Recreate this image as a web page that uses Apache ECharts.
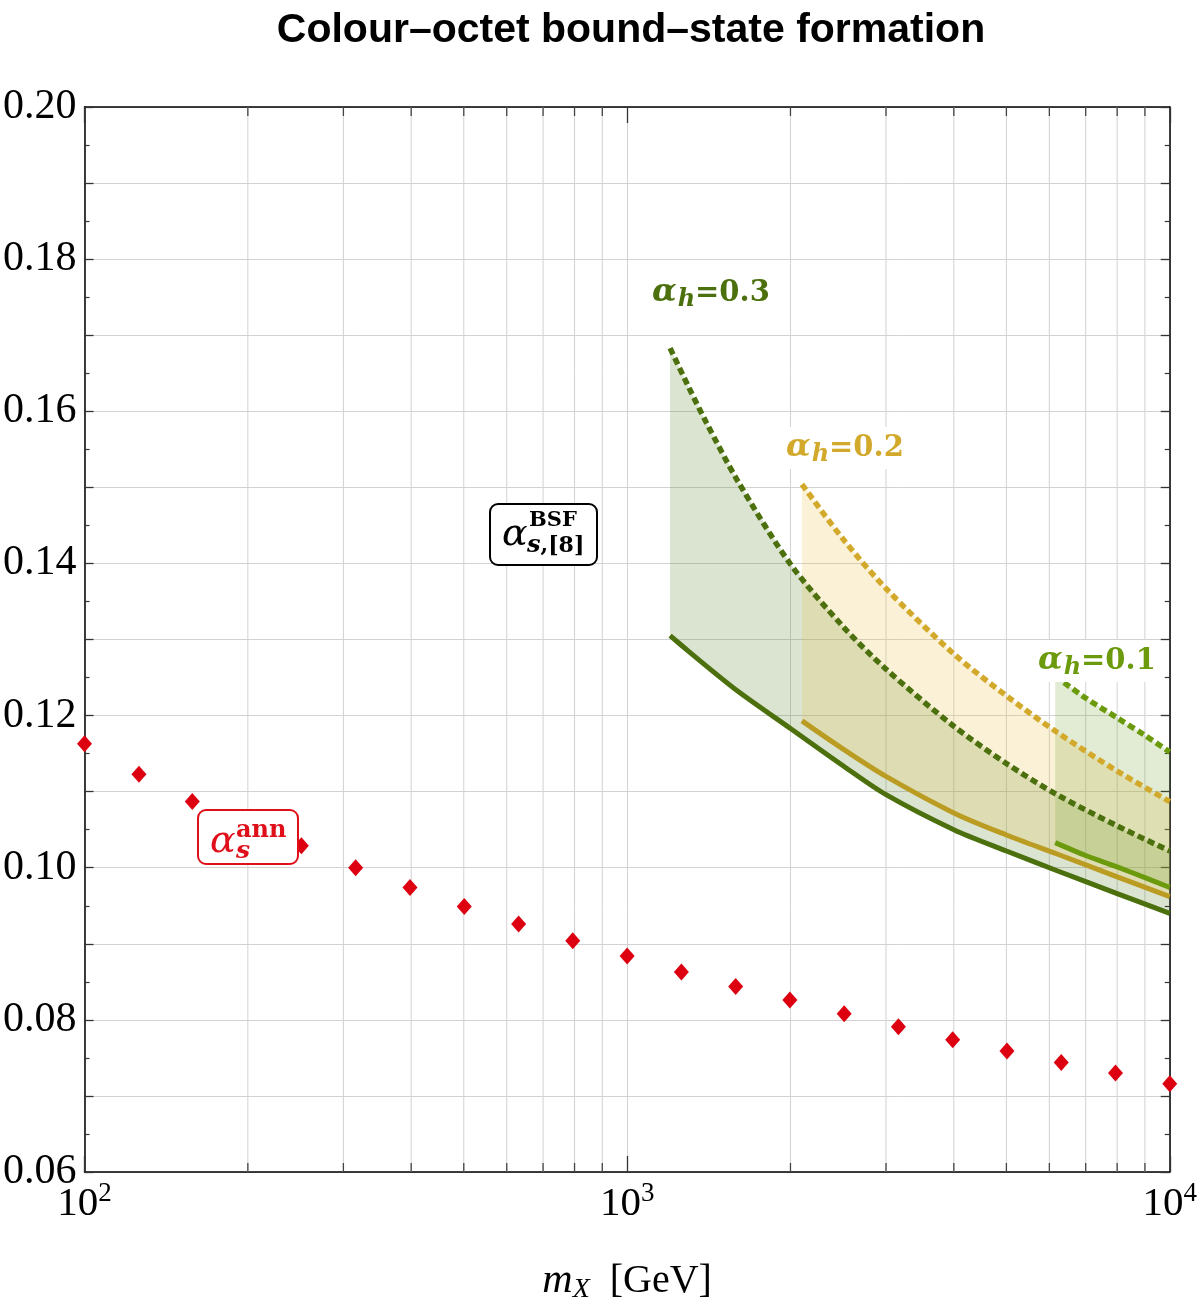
<!DOCTYPE html>
<html>
<head>
<meta charset="utf-8">
<script src="https://cdn.jsdelivr.net/npm/echarts@6.0.0/dist/echarts.min.js"></script>
<style>
  html, body { margin: 0; padding: 0; background: #fff; }
  #chart { width: 1200px; height: 1309px; }
</style>
</head>
<body>
<div id="chart"></div>
<script>
// annihilation coupling (red diamonds)
var annMass = [100, 126, 158, 200, 251, 316, 398, 501, 631, 794, 1000, 1259, 1585, 1995, 2512, 3162, 3981, 5012, 6310, 7943, 10000];
var annAlpha = [0.1163, 0.1123, 0.1087, 0.1056, 0.1029, 0.1000, 0.0974, 0.0949, 0.0926, 0.0904, 0.0884,
  0.0863, 0.0844, 0.0826, 0.0808, 0.0791, 0.0774, 0.0759, 0.0744, 0.0730, 0.0716];

// alpha_h = 0.3 band
var mass03 = [1200, 1300, 1400, 1600, 2000, 2500, 3000, 4000, 5000, 6200, 8000, 10000];
var low03 = [0.1305, 0.1284, 0.1265, 0.1232, 0.1183, 0.1134, 0.1096, 0.1050, 0.1022, 0.0996, 0.0966, 0.0940];
var high03 = [0.1683, 0.1631, 0.1585, 0.1508, 0.1399, 0.1317, 0.1261, 0.1186, 0.1137, 0.1096, 0.1055, 0.1022];

// alpha_h = 0.2 band
var mass02 = [2100, 2500, 3000, 4000, 5000, 6200, 8000, 10000];
var low02 = [0.1193, 0.1156, 0.1120, 0.1072, 0.1043, 0.1018, 0.0988, 0.0962];
var high02 = [0.1504, 0.1432, 0.1367, 0.1281, 0.1226, 0.1178, 0.1127, 0.1087];

// alpha_h = 0.1 band
var mass01 = [6150, 7000, 8000, 9000, 10000];
var low01 = [0.1033, 0.1016, 0.1001, 0.0987, 0.0974];
var high01 = [0.1252, 0.1223, 0.1197, 0.1174, 0.1152];

var xMinorGrid = [200, 300, 400, 500, 600, 700, 800, 900, 2000, 3000, 4000, 5000, 6000, 7000, 8000, 9000];

var Y_MIN = 0.06, Y_MAX = 0.20;
var SERIF = "'Liberation Serif', 'DejaVu Serif', serif";
var MATH = "'DejaVu Serif', serif";
var GRID_COLOR = '#d2d2d2';

var chart = echarts.init(document.getElementById('chart'));

function pairs(xs, ys){
  return xs.map(function(x, i){ return [x, ys[i]]; });
}

// filled region between the two curves of one alpha_h value
function bandFill(xs, lo, hi, fill){
  return {
    type: 'custom', silent: true, z: 2,
    data: [[xs[0], lo[0]]],
    encode: {x: 0, y: 1},
    renderItem: function(params, api){
      var pts = [];
      for (var i = 0; i < xs.length; i++) {
        pts.push(api.coord([xs[i], hi[i]]));
      }
      for (var j = xs.length - 1; j >= 0; j--) {
        pts.push(api.coord([xs[j], lo[j]]));
      }
      return {type: 'polygon', shape: {points: pts}, style: {fill: fill}};
    }
  };
}

function band(xs, lo, hi, lineColor, dotColor, fill){
  return [
    bandFill(xs, lo, hi, fill),
    {
      type: 'line', symbol: 'none', silent: true, z: 2, smooth: 0.3,
      data: pairs(xs, lo),
      lineStyle: {color: lineColor, width: 5}
    },
    {
      type: 'line', symbol: 'none', silent: true, z: 2, smooth: 0.3,
      data: pairs(xs, hi),
      lineStyle: {color: dotColor, width: 5.5, type: [7, 4], cap: 'butt'}
    }
  ];
}

function hLabel(x, y, value, color){
  return {
    type: 'text', left: x, top: y, z: 100,
    style: {
      text: '{a|α}{h|h}{r|=' + value + '}',
      backgroundColor: '#fff',
      padding: [2, 4, 2, 4],
      rich: {
        a: {fontFamily: MATH, fontStyle: 'italic', fontSize: 32, fill: color, fontWeight: 'bold'},
        h: {fontFamily: MATH, fontStyle: 'italic', fontWeight: 'bold', fontSize: 24, fill: color, padding: [14, 0, 0, 1]},
        r: {fontFamily: MATH, fontWeight: 'bold', fontSize: 29, fill: color}
      }
    }
  };
}

var series = [
  {
    type: 'custom', silent: true, z: 1,
    data: xMinorGrid.map(function(v){ return [v, Y_MIN]; }),
    encode: {x: 0, y: 1},
    renderItem: function(params, api){
      var x = api.value(0);
      var b = api.coord([x, Y_MIN]);
      var t = api.coord([x, Y_MAX]);
      return {
        type: 'group',
        children: [
          {type: 'line', shape: {x1: b[0], y1: b[1], x2: t[0], y2: t[1]}, style: {stroke: GRID_COLOR, lineWidth: 1}},
          {type: 'line', shape: {x1: b[0], y1: b[1], x2: b[0], y2: b[1] - 9}, style: {stroke: '#444', lineWidth: 1.3}},
          {type: 'line', shape: {x1: t[0], y1: t[1], x2: t[0], y2: t[1] + 9}, style: {stroke: '#444', lineWidth: 1.3}}
        ]
      };
    }
  }
];
series = series.concat(band(mass03, low03, high03, '#4b700d', '#4b700d', 'rgba(86,128,40,0.21)'));
series = series.concat(band(mass02, low02, high02, '#bb9c22', '#d3a92b', 'rgba(232,192,70,0.22)'));
series = series.concat(band(mass01, low01, high01, '#6b9a0c', '#6b9a0c', 'rgba(110,160,40,0.2)'));
series.push({
  type: 'scatter', symbol: 'diamond', symbolSize: [15, 17], silent: true, z: 3,
  data: pairs(annMass, annAlpha),
  itemStyle: {color: '#dc0010', opacity: 1}
});

var option = {
  animation: false,
  backgroundColor: '#fff',
  title: {
    text: 'Colour–octet bound–state formation',
    left: 626, top: 5, textAlign: 'center',
    textStyle: {fontFamily: "'Liberation Sans', Arial, sans-serif", fontWeight: 'bold', fontSize: 41, color: '#000'}
  },
  grid: {left: 83, right: 30, top: 107, bottom: 116, containLabel: false},
  xAxis: [
    {
      type: 'log', logBase: 10, min: 100, max: 10000,
      name: '{i|m}{s|X}{n|  [GeV]}', nameLocation: 'middle', nameGap: 86,
      nameTextStyle: {
        rich: {
          i: {fontFamily: SERIF, fontStyle: 'italic', fontSize: 42, color: '#000'},
          s: {fontFamily: SERIF, fontStyle: 'italic', fontSize: 28, color: '#000', padding: [18, 0, 0, 0]},
          n: {fontFamily: SERIF, fontSize: 40, color: '#000'}
        }
      },
      axisLine: {lineStyle: {color: '#000', width: 1.5}},
      axisTick: {inside: true, length: 16, lineStyle: {color: '#333', width: 1.3}},
      splitLine: {show: true, lineStyle: {color: GRID_COLOR, width: 1}},
      axisLabel: {
        margin: 8,
        formatter: function(v){
          return '{b|10}{e|' + Math.round(Math.log10(v)) + '}';
        },
        rich: {
          b: {fontFamily: SERIF, fontSize: 41, color: '#000'},
          e: {fontFamily: SERIF, fontSize: 27, color: '#000', padding: [0, 0, 22, 0]}
        }
      }
    },
    {
      type: 'log', logBase: 10, min: 100, max: 10000, position: 'top',
      axisLine: {lineStyle: {color: '#000', width: 1.5}},
      axisTick: {inside: true, length: 16, lineStyle: {color: '#333', width: 1.3}},
      axisLabel: {show: false},
      splitLine: {show: false}
    }
  ],
  yAxis: [
    {
      type: 'value', min: Y_MIN, max: Y_MAX, interval: 0.01,
      axisLine: {show: true, lineStyle: {color: '#000', width: 1.5}},
      axisTick: {inside: true, length: 9, lineStyle: {color: '#333', width: 1.3}},
      minorTick: {show: true, splitNumber: 2, length: 5, lineStyle: {color: '#333', width: 1.2}},
      splitLine: {show: true, lineStyle: {color: GRID_COLOR, width: 1}},
      axisLabel: {
        margin: 8,
        fontFamily: SERIF, fontSize: 42, color: '#000',
        formatter: function(v){
          return Math.round(v * 100) % 2 === 0 ? v.toFixed(2) : '';
        }
      }
    },
    {
      type: 'value', min: Y_MIN, max: Y_MAX, interval: 0.01, position: 'right',
      axisLine: {show: true, lineStyle: {color: '#000', width: 1.5}},
      axisTick: {inside: true, length: 9, lineStyle: {color: '#333', width: 1.3}},
      minorTick: {show: true, splitNumber: 2, length: 5, lineStyle: {color: '#333', width: 1.2}},
      splitLine: {show: false},
      axisLabel: {show: false}
    }
  ],
  series: series,
  graphic: [
    hLabel(648, 272, '0.3', '#4b700d'),
    hLabel(782, 427, '0.2', '#d2a92a'),
    hLabel(1034, 640, '0.1', '#6b9a0c'),
    {
      type: 'group', left: 197, top: 809, z: 100,
      children: [
        {type: 'rect', z: 100, shape: {x: 0, y: 0, width: 100, height: 54, r: 8}, style: {fill: '#fff', stroke: '#e0101a', lineWidth: 2}},
        {type: 'text', z: 101, x: 12, y: 32, style: {text: 'α', fontFamily: MATH, fontStyle: 'italic', fontSize: 38, fill: '#e0101a', verticalAlign: 'middle'}},
        {type: 'text', z: 101, x: 38, y: 21, style: {text: 'ann', fontFamily: MATH, fontWeight: 'bold', fontSize: 24, fill: '#e0101a', verticalAlign: 'middle'}},
        {type: 'text', z: 101, x: 38, y: 41, style: {text: 's', fontFamily: MATH, fontStyle: 'italic', fontWeight: 'bold', fontSize: 25, fill: '#e0101a', verticalAlign: 'middle'}}
      ]
    },
    {
      type: 'group', left: 489, top: 503, z: 100,
      children: [
        {type: 'rect', z: 100, shape: {x: 0, y: 0, width: 107, height: 61, r: 8}, style: {fill: '#fff', stroke: '#000', lineWidth: 2}},
        {type: 'text', z: 101, x: 12, y: 31, style: {text: 'α', fontFamily: MATH, fontStyle: 'italic', fontSize: 38, fill: '#000', verticalAlign: 'middle'}},
        {type: 'text', z: 101, x: 39, y: 17, style: {text: 'BSF', fontFamily: MATH, fontWeight: 'bold', fontSize: 21, fill: '#000', verticalAlign: 'middle'}},
        {type: 'text', z: 101, x: 37, y: 42, style: {
          text: '{i|s}{b|,[8]}', verticalAlign: 'middle',
          rich: {
            i: {fontFamily: MATH, fontStyle: 'italic', fontWeight: 'bold', fontSize: 24, fill: '#000'},
            b: {fontFamily: MATH, fontWeight: 'bold', fontSize: 22, fill: '#000'}
          }
        }}
      ]
    }
  ]
};

chart.setOption(option);
</script>
</body>
</html>
